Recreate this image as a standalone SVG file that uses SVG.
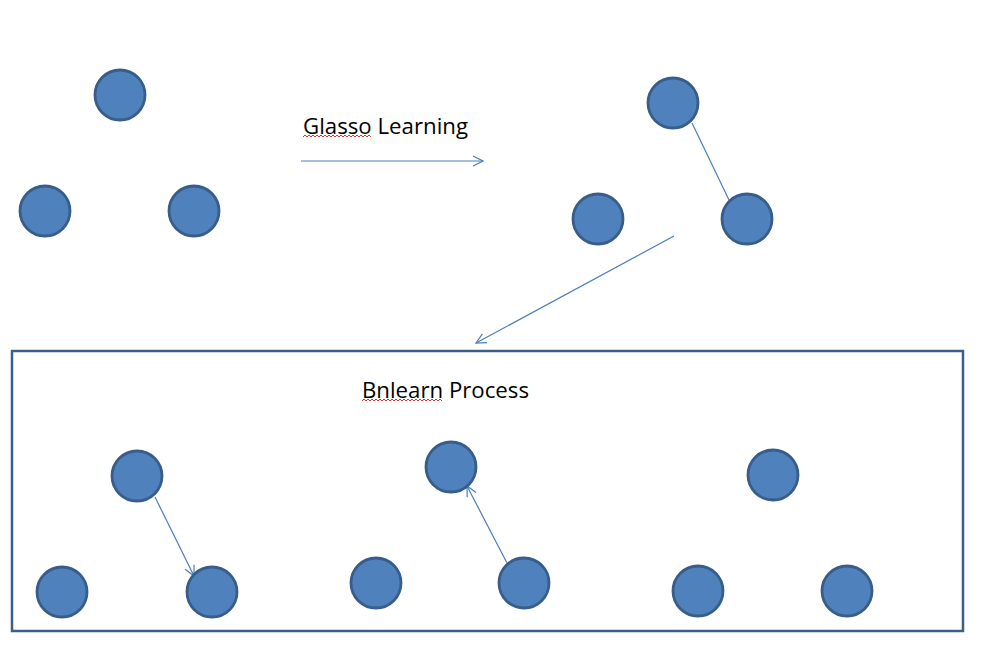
<svg xmlns="http://www.w3.org/2000/svg" width="999" height="666" viewBox="0 0 999 666">
<defs>
<style>
.n{fill:#4f81bd;stroke:#385d8a;stroke-width:2.8}
.e{stroke:#4a7ebb;stroke-width:1.2;fill:none}
.t{font-family:"Open Sans","Liberation Sans",sans-serif;font-size:21.5px;fill:#000}
.sq{stroke:#d02020;stroke-width:0.9;fill:none}
</style>
<marker id="ah" viewBox="0 0 12 12" refX="11" refY="6" markerWidth="12" markerHeight="12" markerUnits="userSpaceOnUse" orient="auto">
<path d="M1,1 L11,6 L1,11" fill="none" stroke="#4a7ebb" stroke-width="1.2"/>
</marker>
</defs>
<rect width="999" height="666" fill="#fff"/>
<rect id="box" x="12" y="351" width="951" height="280" fill="none" stroke="#3c5f8a" stroke-width="2.5"/>
<g id="connectors">
<line class="e" x1="301" y1="161" x2="483" y2="161" marker-end="url(#ah)"/>
<line class="e" x1="692" y1="123" x2="729" y2="200"/>
<line class="e" x1="674" y1="236" x2="476" y2="343" marker-end="url(#ah)"/>
<line class="e" x1="155" y1="497" x2="194" y2="576" marker-end="url(#ah)"/>
<line class="e" x1="507" y1="563" x2="467" y2="486" marker-end="url(#ah)"/>
</g>
<g id="labels">
<text class="t" x="303" y="134" textLength="165" lengthAdjust="spacingAndGlyphs">Glasso Learning</text>
<path class="sq" d="M303,137 l2,-2 l2,2 l2,-2 l2,2 l2,-2 l2,2 l2,-2 l2,2 l2,-2 l2,2 l2,-2 l2,2 l2,-2 l2,2 l2,-2 l2,2 l2,-2 l2,2 l2,-2 l2,2 l2,-2 l2,2 l2,-2 l2,2 l2,-2 l2,2 l2,-2 l2,2 l2,-2 l2,2 l2,-2 l2,2 l2,-2 l2,2"/>
<text class="t" x="362" y="398" textLength="167" lengthAdjust="spacingAndGlyphs">Bnlearn Process</text>
<path class="sq" d="M362,401 l2,-2 l2,2 l2,-2 l2,2 l2,-2 l2,2 l2,-2 l2,2 l2,-2 l2,2 l2,-2 l2,2 l2,-2 l2,2 l2,-2 l2,2 l2,-2 l2,2 l2,-2 l2,2 l2,-2 l2,2 l2,-2 l2,2 l2,-2 l2,2 l2,-2 l2,2 l2,-2 l2,2 l2,-2 l2,2 l2,-2 l2,2 l2,-2 l2,2 l2,-2 l2,2 l2,-2 l2,2"/>
</g>
<g id="n1"><circle class="n" cx="120" cy="95" r="25"/></g>
<g id="n2"><circle class="n" cx="45" cy="211" r="25"/></g>
<g id="n3"><circle class="n" cx="194" cy="211" r="25"/></g>
<g id="n4"><circle class="n" cx="673" cy="103" r="25"/></g>
<g id="n5"><circle class="n" cx="598" cy="219" r="25"/></g>
<g id="n6"><circle class="n" cx="747" cy="219" r="25"/></g>
<g id="n7"><circle class="n" cx="137" cy="476" r="25"/></g>
<g id="n8"><circle class="n" cx="62" cy="592" r="25"/></g>
<g id="n9"><circle class="n" cx="212" cy="592" r="25"/></g>
<g id="n10"><circle class="n" cx="451" cy="467" r="25"/></g>
<g id="n11"><circle class="n" cx="376" cy="583" r="25"/></g>
<g id="n12"><circle class="n" cx="524" cy="583" r="25"/></g>
<g id="n13"><circle class="n" cx="773" cy="475" r="25"/></g>
<g id="n14"><circle class="n" cx="698" cy="591" r="25"/></g>
<g id="n15"><circle class="n" cx="847" cy="591" r="25"/></g>
</svg>
